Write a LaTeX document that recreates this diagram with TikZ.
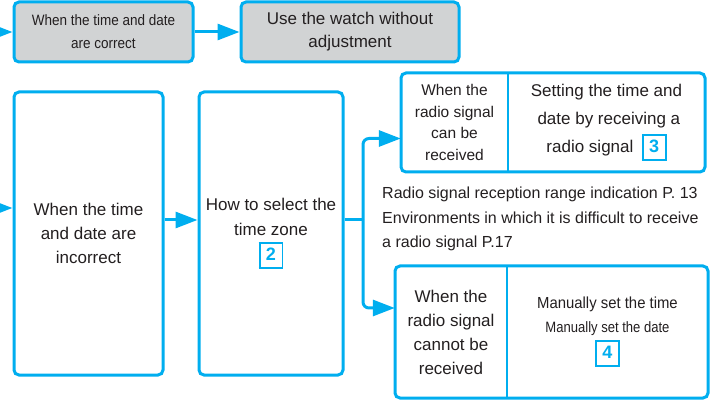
\documentclass[tikz,border=0pt]{standalone}
\usepackage{fontspec}
\setmainfont{Liberation Sans}
\newfontfamily\narrowfont[FakeStretch=0.9]{Liberation Sans}
\newfontfamily\tightfont[FakeStretch=0.87]{Liberation Sans}
\newfontfamily\slimfont[FakeStretch=0.93]{Liberation Sans}
\usetikzlibrary{positioning, arrows.meta}

\definecolor{watchblue}{RGB}{0,174,239}
\definecolor{boxgray}{RGB}{209,211,212}
\definecolor{inkgray}{RGB}{35,31,32}

% blue framed step number
\newcommand{\numbox}[1]{{\setlength{\fboxrule}{1.8pt}\setlength{\fboxsep}{3pt}%
  \fcolorbox{watchblue}{white}{\makebox[15pt]{\rule[-3.5pt]{0pt}{17pt}\textcolor{watchblue}{\fontsize{18}{20}\selectfont\bfseries #1}}}}}

\tikzset{
  flowbox/.style={rectangle, rounded corners=5pt, draw=watchblue, line width=3pt, fill=white, align=center, text=inkgray, inner sep=2pt},
  graybox/.style={flowbox, fill=boxgray},
  cell/.style={rectangle, align=center, text=inkgray, inner sep=0pt},
  flowarrow/.style={draw=watchblue, line width=3pt, -{Triangle[length=22pt,width=16pt]}},
  flowline/.style={draw=watchblue, line width=3pt},
  divider/.style={draw=watchblue, line width=2pt},
}

\begin{document}
\begin{tikzpicture}[x=1pt, y=-1pt]
  \useasboundingbox (0,0) rectangle (716,401);

  % Top row: time and date correct
  \node[graybox, minimum width=179pt, minimum height=60pt, font={\narrowfont\fontsize{15}{23}\selectfont}] (tcorrect) at (103.5,32) {When the time and date\\are correct};
  \node[graybox, right=45pt of tcorrect, minimum width=218pt, minimum height=60pt, font={\fontsize{17}{23}\selectfont}] (noadjust) {Use the watch without\\adjustment};

  % Middle row: time and date incorrect
  \node[flowbox, minimum width=149pt, minimum height=283pt, font={\fontsize{17}{24}\selectfont}] (incorrect) at (88.5,233.5) {When the time\\and date are\\incorrect};
  \node[flowbox, right=33pt of incorrect, minimum width=144pt, minimum height=283pt, font={\fontsize{17}{25}\selectfont}] (tzone) {How to select the\\time zone\\[0pt]\numbox{2}};

  % Radio signal received
  \node[flowbox, minimum width=304pt, minimum height=99pt] (rx) at (553,122.5) {};
  \node[cell, minimum width=107pt, minimum height=99pt, font={\fontsize{15.5}{21.5}\selectfont}] (rxcond) at (454.5,122.5) {When the\\radio signal\\can be\\received};
  \node[cell, minimum width=197pt, minimum height=99pt, font={\fontsize{17}{28}\selectfont}] (rxset) at (606.5,122.5) {Setting the time and\\\ date by receiving a\\radio signal\enspace\numbox{3}};
  \draw[divider] (rxcond.north east) -- (rxcond.south east);

  % Notes
  \node[anchor=north west, align=left, text=inkgray, inner sep=0pt, font={\fontsize{16}{24.5}\selectfont}] (notes) at (382,187) {Radio signal reception range indication P. 13\\Environments in which it is difficult to receive\\a radio signal P.17};

  % Radio signal not received
  \node[flowbox, minimum width=313pt, minimum height=132pt] (nrx) at (551.5,332) {};
  \node[cell, minimum width=112pt, minimum height=132pt, font={\fontsize{17}{24}\selectfont}] (nrxcond) at (451,332) {When the\\radio signal\\cannot be\\received};
  \node[cell, minimum width=201pt, minimum height=132pt, font={\fontsize{16}{24}\selectfont}] (nrxset) at (607.5,332) {{\slimfont\fontsize{16}{24}\selectfont Manually set the time}\\{\tightfont\fontsize{15}{24}\selectfont Manually set the date}\\[2pt]{\fontsize{17}{24}\selectfont\numbox{4}}};
  \draw[divider] (nrxcond.north east) -- (nrxcond.south east);

  % Connectors
  \coordinate (inA) at (-10,32);
  \coordinate (inB) at (-10,208);
  \coordinate (split) at (363,220);
  \draw[flowarrow] (inA) -- (tcorrect);
  \draw[flowarrow] (tcorrect) -- (noadjust);
  \draw[flowarrow] (inB) -- (inB -| incorrect.west);
  \draw[flowarrow] (incorrect.east |- split) -- (tzone.west |- split);
  \draw[flowline] (tzone.east |- split) -- (split);
  \draw[flowarrow, rounded corners=6pt] (split) |- ([yshift=-16pt]rxcond.west);
  \draw[flowarrow, rounded corners=6pt] (split) |- ([yshift=24pt]nrxcond.west);
\end{tikzpicture}
\end{document}
